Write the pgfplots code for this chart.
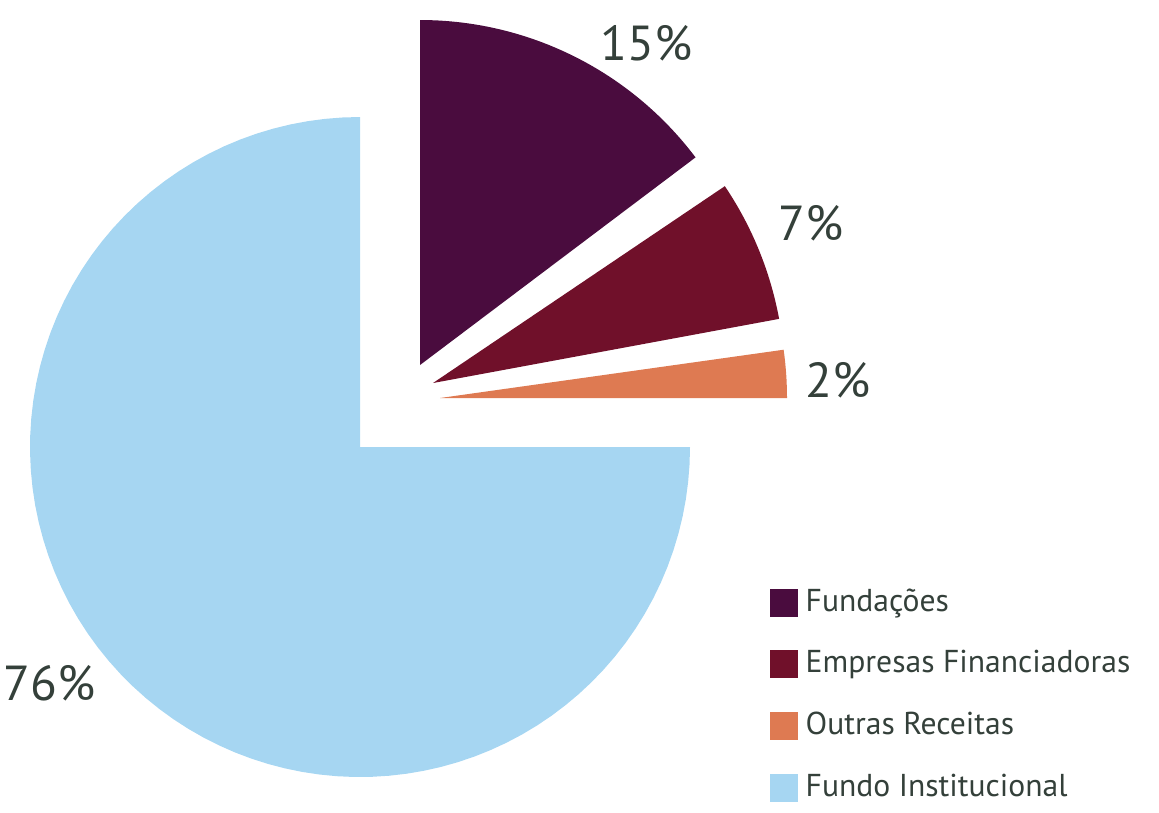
\documentclass[border=0pt]{standalone}
\usepackage{pgfplots}
\pgfplotsset{compat=1.18}
\usepackage{pgfplotstable}
\usepackage{fontspec}
\setmainfont{PT Sans}
\definecolor{cFund}{RGB}{74,12,62}
\definecolor{cEmp}{RGB}{112,16,42}
\definecolor{cOut}{RGB}{222,122,82}
\definecolor{cInst}{RGB}{166,214,242}
\definecolor{cTxt}{RGB}{52,64,58}

% value = share in %, a0/a1 = wedge angles (deg), cx/cy = wedge tip, r = radius (px units)
\pgfplotstableread{
name      value a0   a1  cx  cy  r
Fundacoes 15    37   90  420 447 345
Empresas  7     10.5 34  433 429 352
Outras    2     0    8   440 414 347
Fundo     76    90   360 360 365 330
}\slices

\newcommand\slice[2]{%
  \pgfplotstablegetelem{#1}{a0}\of\slices \let\sA\pgfplotsretval
  \pgfplotstablegetelem{#1}{a1}\of\slices \let\sB\pgfplotsretval
  \pgfplotstablegetelem{#1}{cx}\of\slices \let\sX\pgfplotsretval
  \pgfplotstablegetelem{#1}{cy}\of\slices \let\sY\pgfplotsretval
  \pgfplotstablegetelem{#1}{r}\of\slices  \let\sR\pgfplotsretval
  \edef\doslice{\noexpand\addplot[fill=#2, draw=none, forget plot,
      domain=\sA:\sB, samples=90, variable=\noexpand\t]
      ({\sX+\sR*cos(\noexpand\t)}, {\sY+\sR*sin(\noexpand\t)})
      -- (axis cs:\sX,\sY) -- cycle;}%
  \doslice
}

\begin{document}
\begin{tikzpicture}
\begin{axis}[
  hide axis, scale only axis,
  width=11.59cm, height=8.12cm,
  xmin=0, xmax=1159, ymin=0, ymax=812,
  clip=false,
  legend cell align=left,
  legend image code/.code={\fill[#1,draw=none] (0mm,-1.4mm) rectangle (2.8mm,1.4mm);},
  legend style={at={(axis cs:769,232)}, anchor=north west, draw=none, fill=none,
    inner sep=0pt, row sep=1.8mm, font=\fontsize{9}{10}\selectfont\color{cTxt},
    nodes={inner sep=0.8mm}},
]
\addplot[draw=none, forget plot] coordinates {(0,0) (1159,812)};
\slice{3}{cInst}
\slice{0}{cFund}
\slice{1}{cEmp}
\slice{2}{cOut}

\addlegendimage{fill=cFund}
\addlegendentry{Fundações}
\addlegendimage{fill=cEmp}
\addlegendentry{Empresas Financiadoras}
\addlegendimage{fill=cOut}
\addlegendentry{Outras Receitas}
\addlegendimage{fill=cInst}
\addlegendentry{Fundo Institucional}

\begin{scope}[every node/.style={inner sep=0pt, anchor=base west, text=cTxt, font=\fontsize{14}{16}\selectfont}]
\node at (axis cs:600,752) {15\%};
\node at (axis cs:778,572) {7\%};
\node at (axis cs:805,415) {2\%};
\node at (axis cs:3,112) {76\%};
\end{scope}
\end{axis}
\end{tikzpicture}
\end{document}
